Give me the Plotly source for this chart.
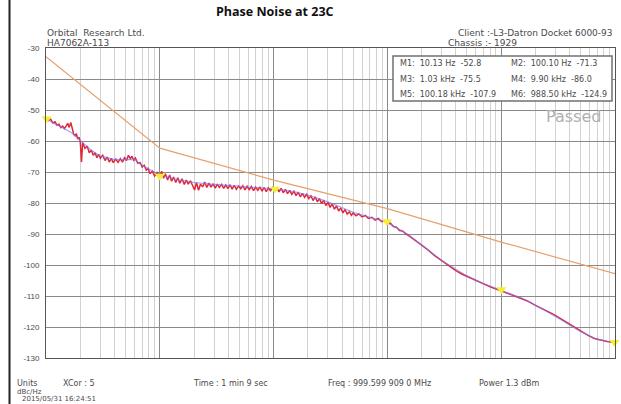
import plotly.graph_objects as go

# ---------------- data ----------------
trace_freq = [10, 10.5, 11, 11.5, 12, 12.5, 13, 13.5, 14, 14.5, 15, 15.5, 16, 16.5, 17, 17.5,
              18, 18.5, 19, 19.5,
              20, 20.5, 21, 22, 23, 24, 25, 26, 27, 28, 29, 30, 31.5, 33, 34.5, 36, 37.5, 39,
              41, 43, 45, 47, 49, 51, 53, 55, 57, 59, 61, 64, 67, 70, 73, 76, 79, 82, 86, 90, 95,
              100, 104, 108, 112, 117, 122, 127, 132, 138, 144, 150, 157, 164, 171, 178, 186,
              194, 202, 210, 219, 228, 238, 248, 259, 270, 282, 294, 307, 320, 334, 349, 364,
              380, 397, 414, 432, 451, 471, 492, 514, 537, 560, 585, 611, 638, 666, 695, 726,
              758, 791, 826, 862, 900, 940, 981, 1024, 1069, 1116, 1165, 1216, 1270, 1326,
              1384, 1445, 1509, 1575, 1644, 1717, 1792, 1871, 1953, 2039, 2129, 2223, 2321,
              2423, 2530, 2641, 2757, 2879, 3005, 3138, 3276, 3420, 3571, 3728, 3892, 4064,
              4243, 4430, 4625, 4829,
              5000, 5300, 5600, 6000, 6400, 6800, 7300, 7800, 8300, 8900, 9500, 10000, 10600,
              11300, 12000, 12800, 13600, 14500, 15500, 17000,
              20000, 23000, 26000, 30000, 35000, 40000,
              45000, 50000, 60000, 70000, 80000, 90000, 100000, 120000, 140000, 170000, 200000,
              240000, 280000, 330000, 380000, 440000, 500000, 580000, 660000, 750000, 850000,
              950000, 1000000]
trace_db = [-52.6, -53.4, -53.0, -54.2, -53.8, -54.9, -54.6, -55.7, -55.2, -56.0, -55.2, -54.3,
            -55.6, -54.0, -55.9, -57.8, -58.3, -57.6, -59.4, -58.8,
            -60.2, -66.8, -60.5, -62.4, -61.6, -63.8, -62.9, -64.6, -63.8, -65.4, -64.3, -65.6,
            -64.6, -66.3, -65.2, -66.8, -65.6, -67.0, -65.8, -66.9, -65.7, -66.8, -65.4, -66.3,
            -64.6, -65.7, -64.9, -66.2, -65.5, -67.2, -66.9, -68.4, -67.8, -69.4, -68.9, -70.6,
            -69.7, -71.3, -70.2,
            -71.4, -69.8, -72.0, -70.6, -72.6, -71.0, -73.0, -71.6, -73.4, -71.9, -73.6, -72.2,
            -74.0, -72.6, -73.9, -72.8, -74.6, -75.8, -73.4, -75.9, -73.9, -74.8, -73.2, -75.0,
            -73.6, -74.9, -73.8, -75.2, -73.9, -75.0, -74.0, -75.3, -74.2, -75.4, -74.1, -75.5,
            -74.3, -75.6, -74.5, -75.4, -74.4, -75.8, -74.6, -75.7, -74.7, -76.0, -74.9, -75.9,
            -74.8, -76.2, -75.0, -76.3, -75.1, -76.0, -75.0, -75.9, -75.1, -76.4, -75.3, -76.7,
            -75.6, -77.0, -75.9, -77.2, -76.2, -77.6, -76.5, -78.0, -76.9, -78.2, -77.2, -78.6,
            -77.7, -79.2, -78.0, -79.6, -78.6, -80.2, -79.1, -80.8, -79.8, -81.4, -80.3, -82.0,
            -80.9, -82.6, -81.6, -83.2, -82.1, -83.6, -82.8, -84.0,
            -83.2, -84.1, -83.5, -84.5, -84.0, -85.0, -84.6, -85.5, -85.0, -86.0, -85.6, -86.6,
            -86.5, -87.6, -87.8, -88.9, -89.0, -90.0, -90.6, -91.6,
            -93.6, -95.3, -97.0, -98.6, -100.4, -101.8,
            -102.9, -103.6, -105.0, -106.1, -107.0, -107.7,
            -108.2, -109.3, -110.2, -111.6, -113.0, -114.4, -115.7, -117.2, -118.6, -120.0,
            -121.4, -122.7, -123.7, -124.3, -124.7, -124.9, -125.0]

smooth_freq = [10, 12, 15, 17, 20, 25, 30, 40, 50, 60, 70, 100, 150, 200, 300, 500, 1000, 1500,
               2000, 3000, 4000, 5000, 7000, 10000, 15000, 20000, 30000, 50000, 70000, 100000,
               150000, 200000, 300000, 500000, 700000, 1000000]
smooth_db = [-52.8, -54.5, -56.3, -57.5, -59.8, -63.0, -64.8, -66.0, -66.0, -66.0, -67.8, -71.0,
             -72.6, -73.4, -74.0, -74.5, -75.4, -76.3, -77.4, -79.6, -81.5, -83.0, -84.6, -86.3,
             -90.0, -93.5, -98.5, -103.5, -106.0, -108.2, -110.6, -113.0, -116.6, -121.5,
             -124.0, -125.0]

limit_freq = [10, 100, 1000, 10000, 100000, 1000000]
limit_db = [-32.8, -62.3, -72.6, -81.8, -92.6, -102.8]

marker_names = ["1", "2", "3", "4", "5", "6"]
marker_freq = [10.13, 100.10, 1030, 9900, 100180, 988500]
marker_db = [-52.8, -71.3, -75.5, -86.0, -107.9, -124.9]
marker_text = ["M1:  10.13 Hz  -52.8", "M2:  100.10 Hz  -71.3",
               "M3:  1.03 kHz  -75.5", "M4:  9.90 kHz  -86.0",
               "M5:  100.18 kHz  -107.9", "M6:  988.50 kHz  -124.9"]

x_tick_vals = [10, 100, 1000, 10000, 100000, 1000000]
x_tick_text = ["10Hz", "100Hz", "1kHz", "10kHz", "100kHz", "1 MHz"]
y_tick_vals = [-30, -40, -50, -60, -70, -80, -90, -100, -110, -120, -130]

# ---------------- figure ----------------
W, H = 621, 404
ML, MR, MT, MB = 46, 6, 48, 46
PW, PH = W - ML - MR, H - MT - MB
FONT = "DejaVu Sans"
TXT = "#4a4a4a"


def px(x):
    return (x - ML) / PW


def py(y):
    return 1 - (y - MT) / PH


fig = go.Figure()
fig.add_trace(go.Scatter(x=limit_freq, y=limit_db, mode="lines",
                         line=dict(color="#e8a06c", width=1.2), hoverinfo="skip"))
fig.add_trace(go.Scatter(x=trace_freq, y=trace_db, mode="lines",
                         line=dict(color="#e02838", width=1.5), hoverinfo="skip"))
fig.add_trace(go.Scatter(x=smooth_freq, y=smooth_db, mode="lines",
                         line=dict(color="rgba(120,120,255,0.7)", width=1.1), hoverinfo="skip"))
fig.add_trace(go.Scatter(x=marker_freq, y=marker_db, mode="markers",
                         marker=dict(symbol="triangle-down", size=9, color="#f4f030",
                                     line=dict(width=0)),
                         cliponaxis=False, hoverinfo="skip"))

ann = []
for n, f, d in zip(marker_names, marker_freq, marker_db):
    ann.append(dict(x=f, y=d, xref="x", yref="y", text=n, showarrow=False,
                    xshift=6, yshift=9, font=dict(family=FONT, size=8, color=TXT)))

# x tick labels
for i, (v, t) in enumerate(zip(x_tick_vals, x_tick_text)):
    anchor = "left" if i == 0 else ("right" if i == len(x_tick_vals) - 1 else "center")
    ann.append(dict(x=v, y=py(368), xref="x", yref="paper", text=t, showarrow=False,
                    xanchor=anchor, yanchor="middle",
                    font=dict(family=FONT, size=8, color=TXT)))

# marker table
for i, t in enumerate(marker_text):
    col = i % 2
    row = i // 2
    ann.append(dict(x=px(398 if col == 0 else 509), y=py(63.5 + row * 15.5),
                    xref="paper", yref="paper", text=t, showarrow=False,
                    xanchor="left", yanchor="middle",
                    font=dict(family=FONT, size=8, color=TXT)))


def txt(x, y, t, size=8, anchor="left", color=TXT, family=FONT, bold=False):
    ann.append(dict(x=px(x), y=py(y), xref="paper", yref="paper",
                    text=("<b>%s</b>" % t) if bold else t, showarrow=False,
                    xanchor=anchor, yanchor="middle",
                    font=dict(family=family, size=size, color=color)))


txt(274.5, 12, "Phase Noise at 23C", size=12.5, anchor="center", color="#111111",
    family="Open Sans", bold=True)
txt(45, 33, "Orbital  Research Ltd.", size=9)
txt(45, 43, "HA7062A-113", size=9)
txt(615, 33, "Client :-L3-Datron Docket 6000-93", size=9, anchor="right")
txt(446, 43, "Chassis :- 1929", size=9)
txt(603, 116, "Passed", size=16, anchor="right", color="#b0b0b0")
txt(15, 383, "Units")
txt(61, 383, "XCor : 5")
txt(191, 383, "Time : 1 min 9 sec")
txt(326, 383, "Freq : 999.599 909 0 MHz")
txt(477, 383, "Power 1.3 dBm")
txt(15, 392, "dBc/Hz", size=7)
txt(20, 399, "2015/05/31 16:24:51", size=7)

shapes = [
    dict(type="rect", xref="paper", yref="paper", x0=px(393), x1=px(612),
         y0=py(101), y1=py(56), line=dict(color="#707070", width=1.5),
         fillcolor="white", layer="above"),
    dict(type="line", xref="paper", yref="paper", x0=px(9.5), x1=px(9.5),
         y0=py(H + 2), y1=py(-2), line=dict(color="#222222", width=2)),
]

fig.update_layout(
    width=W, height=H,
    margin=dict(l=ML, r=MR, t=MT, b=MB),
    paper_bgcolor="white", plot_bgcolor="white",
    showlegend=False,
    annotations=ann, shapes=shapes,
    xaxis=dict(type="log", range=[1, 6], tickvals=x_tick_vals, showticklabels=False,
               showgrid=True, gridcolor="#8a8a8a", gridwidth=1,
               minor=dict(showgrid=True, gridcolor="#d2d2d2", gridwidth=1, dtick="D1"),
               showline=True, mirror=True, linecolor="#555555", linewidth=1,
               zeroline=False, ticks=""),
    yaxis=dict(range=[-130, -30], tickvals=y_tick_vals,
               ticktext=[str(v) for v in y_tick_vals],
               tickfont=dict(family="Liberation Sans", size=8, color=TXT),
               showgrid=True, gridcolor="#8a8a8a", gridwidth=1,
               showline=True, mirror=True, linecolor="#555555", linewidth=1,
               zeroline=False, ticks="outside", ticklen=4, tickcolor="white"),
)

fig.write_html("out.html", config={"displayModeBar": False},
               post_script="document.body.style.margin='0';"
                           "document.body.style.overflow='hidden';")
